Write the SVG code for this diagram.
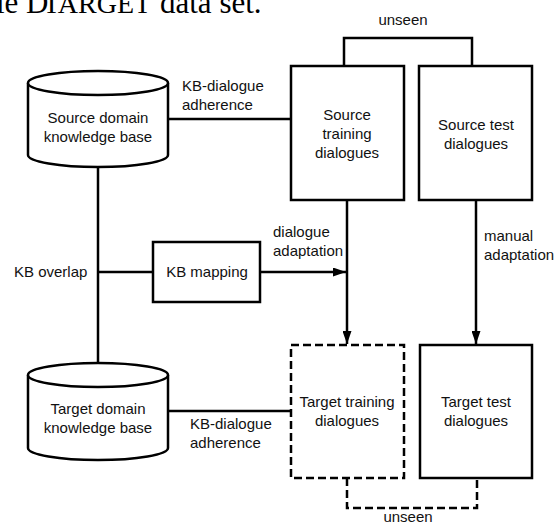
<svg xmlns="http://www.w3.org/2000/svg" width="554" height="523" viewBox="0 0 554 523">
<style>
.s{fill:none;stroke:#000;stroke-width:2.5}
.f{fill:#fff;stroke:#000;stroke-width:2.5}
.d{stroke-dasharray:8 4}
text{font-family:"Liberation Sans","Open Sans",sans-serif;font-size:15px;fill:#111}
.c{text-anchor:middle}
.top{font-family:"Liberation Serif","Times New Roman",serif;font-size:31px;fill:#000}
</style>
<defs>
<marker id="ah" viewBox="0 0 13 9" refX="13" refY="4.5" markerWidth="13" markerHeight="9" markerUnits="userSpaceOnUse" orient="auto">
<path d="M0,0 L13,4.5 L0,9 Z" fill="#000"/>
</marker>
</defs>
<text class="top" y="13"><tspan x="-4">le D</tspan><tspan x="43" font-size="28">TARGET</tspan><tspan x="160">data set.</tspan></text>
<g id="connectors">
<path class="s" d="M168,119 H291"/>
<path class="s" d="M344,66 V38 H472 V66"/>
<path class="s" d="M98,167 V363"/>
<path class="s" d="M98,272 H153"/>
<path class="s" d="M260,272 H346" marker-end="url(#ah)"/>
<path class="s" d="M347,200 V344" marker-end="url(#ah)"/>
<path class="s" d="M476,200 V344" marker-end="url(#ah)"/>
<path class="s" d="M168,411 H291"/>
<path class="s d" d="M347,478 V508 H477 V478"/>
<text x="182" y="91">KB-dialogue</text>
<text x="182" y="110">adherence</text>
<text class="c" x="403" y="25">unseen</text>
<text x="14" y="277">KB overlap</text>
<text x="273" y="237">dialogue</text>
<text x="273" y="256">adaptation</text>
<text x="484" y="241">manual</text>
<text x="484" y="260">adaptation</text>
<text x="190" y="429">KB-dialogue</text>
<text x="190" y="448">adherence</text>
<text class="c" x="408" y="522">unseen</text>
</g>
<g id="source-kb">
<path class="f" d="M28,83 V155 A70,12 0 0 0 168,155 V83"/>
<ellipse class="f" cx="98" cy="83" rx="70" ry="12"/>
<text class="c" x="98" y="123">Source domain</text>
<text class="c" x="98" y="142">knowledge base</text>
</g>
<g id="target-kb">
<path class="f" d="M28,375 V448 A70,12 0 0 0 168,448 V375"/>
<ellipse class="f" cx="98" cy="375" rx="70" ry="12"/>
<text class="c" x="98" y="414">Target domain</text>
<text class="c" x="98" y="433">knowledge base</text>
</g>
<g id="source-training">
<rect class="f" x="291" y="66" width="113" height="134"/>
<text class="c" x="347" y="120">Source</text>
<text class="c" x="347" y="139">training</text>
<text class="c" x="347" y="158">dialogues</text>
</g>
<g id="source-test">
<rect class="f" x="419" y="66" width="113" height="134"/>
<text class="c" x="476" y="130">Source test</text>
<text class="c" x="476" y="149">dialogues</text>
</g>
<g id="kb-mapping">
<rect class="f" x="153" y="242" width="107" height="60"/>
<text class="c" x="207" y="277">KB mapping</text>
</g>
<g id="target-training">
<rect class="f d" x="291" y="345" width="113" height="133"/>
<text class="c" x="347" y="407">Target training</text>
<text class="c" x="347" y="426">dialogues</text>
</g>
<g id="target-test">
<rect class="f" x="420" y="345" width="112" height="133"/>
<text class="c" x="476" y="407">Target test</text>
<text class="c" x="476" y="426">dialogues</text>
</g>
</svg>
